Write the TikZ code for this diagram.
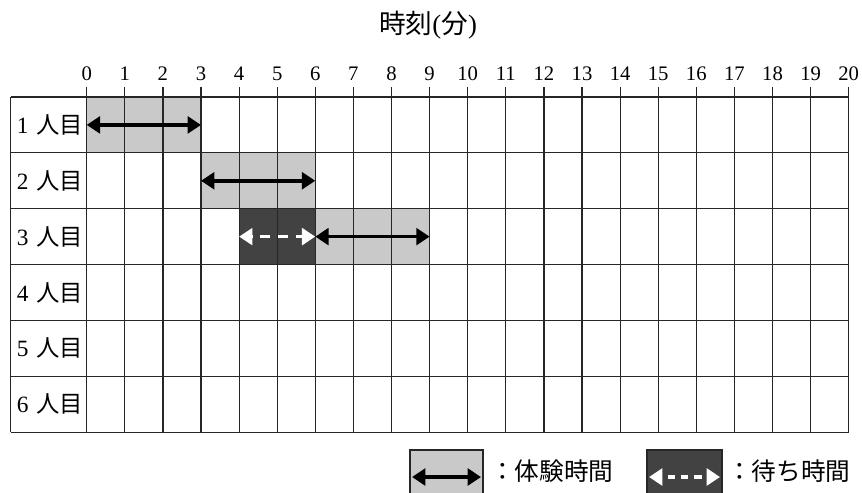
\documentclass[tikz,border=0pt]{standalone}
\usepackage{fontspec}
\setmainfont{Liberation Serif}
\newfontfamily\cjk{Noto Sans CJK JP}
\usetikzlibrary{arrows.meta}
\begin{document}
\begin{tikzpicture}[x=0.75pt,y=-0.75pt,
  gridline/.style={line width=0.9pt, black!85},
  lightcell/.style={fill=black!21},
  darkcell/.style={fill=black!74},
  exparrow/.style={line width=2.8pt, {Triangle[length=10pt,width=12.5pt]}-{Triangle[length=10pt,width=12.5pt]}},
  waitarrow/.style={white, line width=2.8pt, dash pattern=on 7.5pt off 6pt, dash phase=7pt, {Triangle[length=10pt,width=12.5pt]}-{Triangle[length=10pt,width=12.5pt]}},
  waitlegend/.style={white, line width=2.8pt, dash pattern=on 5.5pt off 4.5pt, dash phase=5.5pt, {Triangle[length=10pt,width=12.5pt]}-{Triangle[length=10pt,width=12.5pt]}},
  numlabel/.style={font=\fontsize{15.5}{17}\selectfont, inner sep=0pt},
  rowlabel/.style={font=\fontsize{17.5}{19}\selectfont, inner sep=0pt},
  titletext/.style={font=\fontsize{20}{22}\selectfont, inner sep=0pt},
  legendtext/.style={font=\fontsize{18.5}{20}\selectfont\cjk, inner sep=0pt, anchor=west}
]
\useasboundingbox (0,0) rectangle (862,492);
\def\XO{86.7}\def\DX{38.1}\def\YT{97}\def\DY{55.85}\def\XL{10.5}
% shaded cells
\fill[lightcell] (\XO,\YT) rectangle ({\XO+3*\DX},{\YT+\DY});
\fill[lightcell] ({\XO+3*\DX},{\YT+\DY}) rectangle ({\XO+6*\DX},{\YT+2*\DY});
\fill[darkcell] ({\XO+4*\DX},{\YT+2*\DY}) rectangle ({\XO+6*\DX},{\YT+3*\DY});
\fill[lightcell] ({\XO+6*\DX},{\YT+2*\DY}) rectangle ({\XO+9*\DX},{\YT+3*\DY});
% grid
\foreach \r in {0,...,6} \draw[gridline] (\XL,{\YT+\r*\DY}) -- ({\XO+20*\DX},{\YT+\r*\DY});
\draw[gridline] (\XL,\YT) -- (\XL,{\YT+6*\DY});
\foreach \c in {0,...,20} {
  \draw[gridline] ({\XO+\c*\DX},87) -- ({\XO+\c*\DX},{\YT+6*\DY});
  \node[numlabel] (n\c) at ({\XO+\c*\DX},73.5) {\c};
}
% title
\node[titletext] (title) at (428,25) {{\cjk 時刻}({\cjk 分})};
% row labels
\foreach \r in {1,...,6}
  \node[rowlabel] (p\r) at (50,{\YT+(\r-0.5)*\DY}) {\r\hspace{0.35em}{\cjk 人目}};
% arrows
\coordinate (a0) at (\XO,{\YT+0.5*\DY});
\coordinate (a3) at ({\XO+3*\DX},{\YT+0.5*\DY});
\coordinate (b3) at ({\XO+3*\DX},{\YT+1.5*\DY});
\coordinate (b6) at ({\XO+6*\DX},{\YT+1.5*\DY});
\coordinate (c4) at ({\XO+4*\DX},{\YT+2.5*\DY});
\coordinate (c6) at ({\XO+6*\DX},{\YT+2.5*\DY});
\coordinate (c9) at ({\XO+9*\DX},{\YT+2.5*\DY});
\draw[exparrow] (a0) -- (a3);
\draw[exparrow] (b3) -- (b6);
\draw[exparrow] (c6) -- (c9);
\draw[waitarrow] (c4) -- (c6);
% legend
\filldraw[lightcell, draw=black!85, line width=0.9pt] (410,450) rectangle (483,505);
\coordinate (l1a) at (412,477);
\coordinate (l1b) at (481,477);
\draw[exparrow] (l1a) -- (l1b);
\node[legendtext] (leg1) at (490,471) {：体験時間};
\filldraw[darkcell, draw=black!85, line width=0.9pt] (647,450) rectangle (722,505);
\coordinate (l2a) at (649,477);
\coordinate (l2b) at (720,477);
\draw[waitlegend] (l2a) -- (l2b);
\node[legendtext] (leg2) at (727,471) {：待ち時間};
\end{tikzpicture}
\end{document}
